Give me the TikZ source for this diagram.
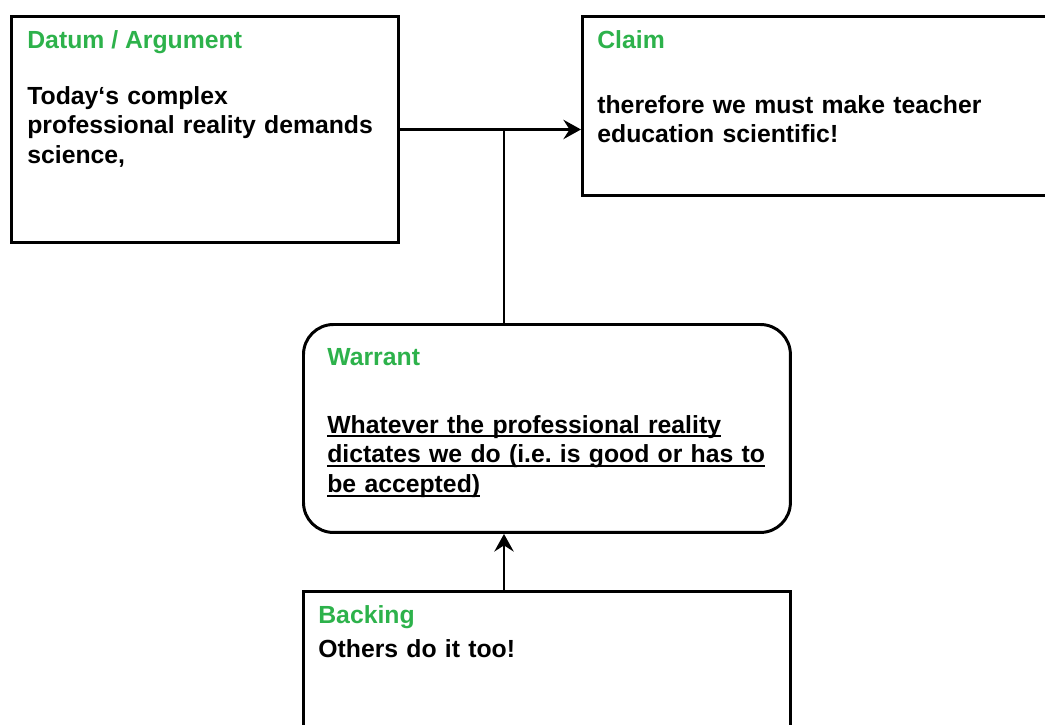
\documentclass[tikz,border=0pt]{standalone}
\usepackage{fontspec}
\setmainfont{Liberation Sans}
\usetikzlibrary{arrows.meta,calc,positioning}
\definecolor{headgreen}{RGB}{45,178,75}
% underline that sits just below the baseline
\newcommand\ulline[1]{\leavevmode\setbox0\hbox{#1}\rlap{\rule[-2.4pt]{\wd0}{1pt}}\box0}

\begin{document}
\frenchspacing
\begin{tikzpicture}[x=0.02cm,y=-0.02cm,
  box/.style={draw,line width=1.7pt,rectangle,inner sep=0pt,anchor=north west},
  roundbox/.style={box,rounded corners=0.6cm},
  head/.style={anchor=base west,inner sep=0pt,text=headgreen,font=\fontsize{14.1}{16.9}\selectfont\bfseries},
  body/.style={anchor=base west,inner sep=0pt,align=left,text width=9cm,font=\fontsize{14.1}{16.9}\selectfont\bfseries},
  link/.style={line width=1.7pt},
  arr/.style={link,-{Stealth[length=10pt,width=11pt,inset=3.5pt]}}]
  \clip (0,0) rectangle (1045,724);
  % Datum
  \node[box,minimum width=7.74cm,minimum height=4.52cm] (datum) at (10,15) {};
  \node[head] (datumhead) at (27,48) {Datum / Argument};
  \node[body] (datumtext) at (27,104) {Today‘s complex\\professional reality demands\\science,};
  % Claim
  \node[box,minimum width=9.8cm,minimum height=3.58cm] (claim) at (581,15) {};
  \node[head] (claimhead) at (597,48) {Claim};
  \node[body] (claimtext) at (597,113) {therefore we must make teacher\\education scientific!};
  % Warrant
  \node[roundbox,minimum width=9.74cm,minimum height=4.16cm] (warrant) at (302,323) {};
  \node[head] (warranthead) at (327,365) {Warrant};
  \node[body] (warranttext) at (327,433) {\ulline{Whatever the professional reality}\\
    \ulline{dictates we do (i.e. is good or has to}\\\ulline{be accepted)}};
  % Backing
  \node[box,minimum width=9.74cm,minimum height=3.4cm] (backing) at (302,590) {};
  \node[head] (backinghead) at (318,623) {Backing};
  \node[body] (backingtext) at (318,657) {Others do it too!};
  % Connectors
  \coordinate (join) at (504,128);
  \draw[arr] (datum.east) -- (datum.east -| claim.west);
  \draw[link] (join |- warrant.north) -- (join);
  \draw[arr] (join |- backing.north) -- (join |- warrant.south);
\end{tikzpicture}
\end{document}
